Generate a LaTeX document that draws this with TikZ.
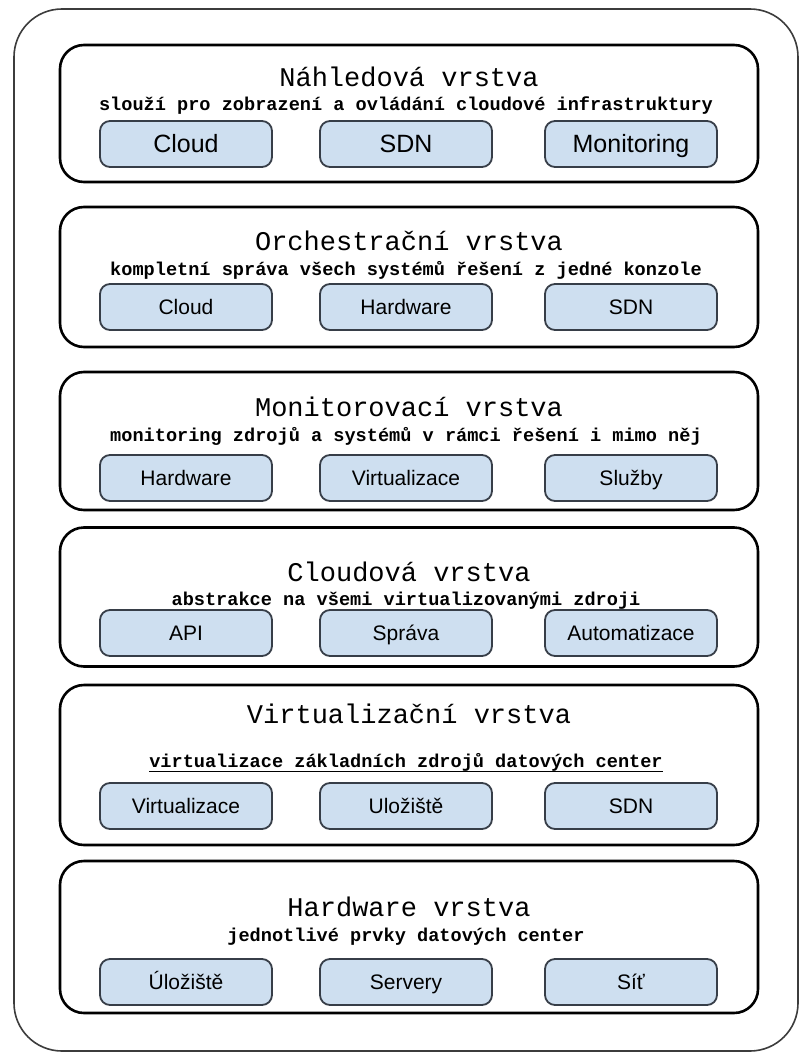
\documentclass[tikz,border=0pt]{standalone}
\usepackage{fontspec}
\setmainfont{Liberation Sans}
\newfontfamily\monofont{Liberation Mono}
\definecolor{boxblue}{RGB}{206,223,240}
\definecolor{boxline}{RGB}{55,62,72}
\definecolor{outerline}{RGB}{60,60,60}
\begin{document}
\begin{tikzpicture}[x=1pt,y=-1pt,
  outerbox/.style={draw=outerline, line width=1.6pt, rounded corners=48pt},
  layerbox/.style={draw=black, line width=2.6pt, rounded corners=24pt, minimum width=698pt, inner sep=0pt},
  itembox/.style={draw=boxline, fill=boxblue, line width=1.8pt, rounded corners=10pt,
    minimum width=172pt, minimum height=46pt, inner sep=0pt, text height=15pt, text depth=0pt,
    font=\fontsize{21}{24}\selectfont},
  bigitem/.style={itembox, text height=18pt, text depth=0pt, font=\fontsize{25}{28}\selectfont},
  titletext/.style={font=\monofont\fontsize{27}{30}\selectfont, inner sep=0pt, text height=18pt, text depth=5pt},
  subtext/.style={font=\monofont\bfseries\fontsize{18.6}{21}\selectfont, inner sep=0pt, text height=12pt, text depth=4pt}
]
\useasboundingbox (0,0) rectangle (800,1054);
\draw[outerbox] (14,9) rectangle (798,1051);

% Layer 1
\node[layerbox, minimum height=137pt] (L1) at (409,113.5) {};
\node[titletext] (T1) at (409,80) {Náhledová vrstva};
\node[subtext] (S1) at (406,107) {slouží pro zobrazení a ovládání cloudové infrastruktury};
\node[bigitem] (L1a) at (186,144) {Cloud};
\node[bigitem] (L1b) at (406,144) {SDN};
\node[bigitem] (L1c) at (631,144) {Monitoring};

% Layer 2
\node[layerbox, minimum height=140pt] (L2) at (409,277) {};
\node[titletext] (T2) at (409,244) {Orchestrační vrstva};
\node[subtext] (S2) at (406,271) {kompletní správa všech systémů řešení z jedné konzole};
\node[itembox] (L2a) at (186,307) {Cloud};
\node[itembox] (L2b) at (406,307) {Hardware};
\node[itembox] (L2c) at (631,307) {SDN};

% Layer 3
\node[layerbox, minimum height=138pt] (L3) at (409,441) {};
\node[titletext] (T3) at (409,410) {Monitorovací vrstva};
\node[subtext] (S3) at (406,437) {monitoring zdrojů a systémů v rámci řešení i mimo něj};
\node[itembox] (L3a) at (186,478) {Hardware};
\node[itembox] (L3b) at (406,478) {Virtualizace};
\node[itembox] (L3c) at (631,478) {Služby};

% Layer 4
\node[layerbox, minimum height=139pt] (L4) at (409,597) {};
\node[titletext] (T4) at (409,575) {Cloudová vrstva};
\node[subtext] (S4) at (406,601) {abstrakce na všemi virtualizovanými zdroji};
\node[itembox] (L4a) at (186,633) {API};
\node[itembox] (L4b) at (406,633) {Správa};
\node[itembox] (L4c) at (631,633) {Automatizace};

% Layer 5
\node[layerbox, minimum height=160pt] (L5) at (409,765) {};
\node[titletext] (T5) at (409,717) {Virtualizační vrstva};
\node[subtext] (S5) at (406,763) {virtualizace základních zdrojů datových center};
\draw[line width=1.2pt] (S5.south west) -- (S5.south east);
\node[itembox] (L5a) at (186,806) {Virtualizace};
\node[itembox] (L5b) at (406,806) {Uložiště};
\node[itembox] (L5c) at (631,806) {SDN};

% Layer 6
\node[layerbox, minimum height=152pt] (L6) at (409,937) {};
\node[titletext] (T6) at (409,910) {Hardware vrstva};
\node[subtext] (S6) at (406,937) {jednotlivé prvky datových center};
\node[itembox] (L6a) at (186,982) {Úložiště};
\node[itembox] (L6b) at (406,982) {Servery};
\node[itembox] (L6c) at (631,982) {Síť};
\end{tikzpicture}
\end{document}
